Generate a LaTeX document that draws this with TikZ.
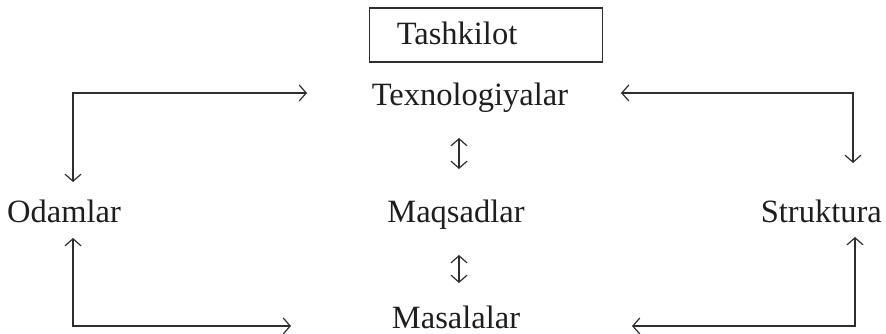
\documentclass[tikz,border=0pt]{standalone}
\usepackage{fontspec}
\setmainfont{Liberation Serif}
\usetikzlibrary{arrows.meta}
\definecolor{ink}{HTML}{1E1E1E}
\definecolor{wire}{HTML}{2E2E2E}
\begin{document}
\begin{tikzpicture}[x=1pt,y=-1pt,
  lbl/.style={inner sep=0pt, text=ink, font=\fontsize{32.5}{38}\selectfont, anchor=base},
  barb/.tip={Straight Barb[length=7pt,width=16pt,line width=1.2pt]},
  link/.style={line width=1.2pt, draw=wire, barb-barb},
]
\useasboundingbox (0,0) rectangle (886,334);

% title box
\node (box) [draw=wire, line width=1.3pt, minimum width=233pt, minimum height=54pt, inner sep=0pt] at (486,35) {};
\node[lbl] (tash) at (457,45) {Tashkilot};

% labels
\node[lbl] (texn) at (470,106) {Texnologiyalar};
\node[lbl] (maqs) at (456,222) {Maqsadlar};
\node[lbl, anchor=base west] (odam) at (7,222) {Odamlar};
\node[lbl, anchor=base east] (stru) at (882,222) {Struktura};
\node[lbl] (masa) at (456,328) {Masalalar};

% connector ends
\coordinate (tlA) at (73,182);  \coordinate (tlB) at (307,93);
\coordinate (trA) at (853,163); \coordinate (trB) at (621,93);
\coordinate (blA) at (73,238);  \coordinate (blB) at (291,326);
\coordinate (brA) at (855,237); \coordinate (brB) at (632,326);
\coordinate (m1a) at (459,138); \coordinate (m1b) at (459,169);
\coordinate (m2a) at (459,255); \coordinate (m2b) at (459,283);

% loops around the centre column
\draw[link] (tlA) |- (tlB);
\draw[link] (trA) |- (trB);
\draw[link] (blA) |- (blB);
\draw[link] (brA) |- (brB);

% two-way links in the centre column
\draw[link] (m1a) -- (m1b);
\draw[link] (m2a) -- (m2b);
\end{tikzpicture}
\end{document}
